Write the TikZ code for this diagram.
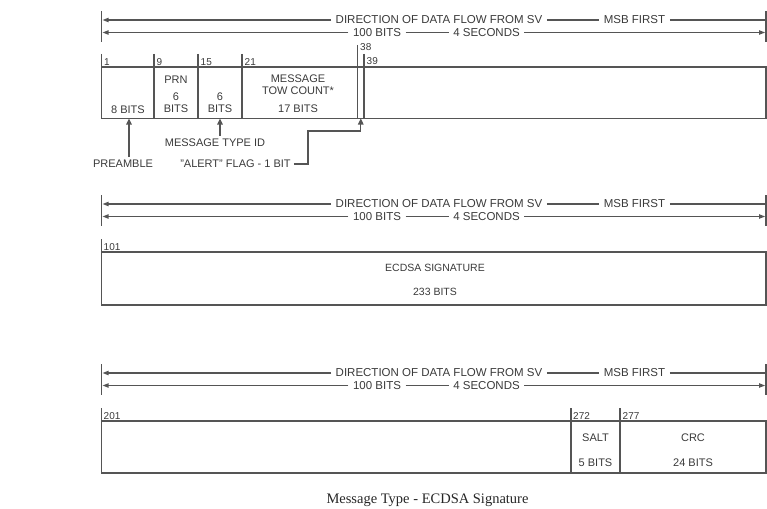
\documentclass[tikz,border=0pt]{standalone}
\usepackage{fontspec}
\setmainfont{Liberation Sans}
\newfontfamily\capfont{Liberation Serif}
\usetikzlibrary{arrows.meta,calc}
\definecolor{lncol}{HTML}{555555}
\definecolor{txcol}{HTML}{3A3A3A}
\begin{document}
\begin{tikzpicture}[x=1pt,y=-1pt,
  ln/.style={draw=lncol, line width=1.25pt},
  tip/.style={ln,-{Triangle[length=6pt,width=4.2pt]}},
  uptip/.style={ln,-{Triangle[length=6pt,width=5.5pt]}},
  lbl/.style={text=txcol, font=\fontsize{11}{12}\selectfont, inner sep=0pt},
  hdr/.style={text=txcol, font=\fontsize{11.5}{12}\selectfont, inner ysep=0pt, inner xsep=4.5pt},
  num/.style={text=txcol, font=\fontsize{10}{10}\selectfont, inner sep=0pt, anchor=base west},
  sublbl/.style={text=txcol, font=\fontsize{11}{12}\selectfont, inner xsep=3pt, inner ysep=3pt},
  ]
\useasboundingbox (0,0) rectangle (767,508);

% ---------- headers ----------
\foreach \s/\y in {1/20,2/204,3/373}{
  \coordinate (tlA\s) at (101.7,\y-9);
  \coordinate (tlB\s) at (101.7,\y+22);
  \coordinate (trA\s) at (766,\y-9);
  \coordinate (trB\s) at (766,\y+22);
  \draw[ln] (tlA\s) -- (tlB\s);
  \draw[ln] (trA\s) -- (trB\s);
  \node[hdr] (d\s) at (439,\y) {DIRECTION OF DATA FLOW FROM SV};
  \node[hdr] (m\s) at (634.5,\y) {MSB FIRST};
  \node[hdr] (b\s) at (377,\y+12.5) {100 BITS};
  \node[hdr] (s\s) at (486.5,\y+12.5) {4 SECONDS};
  \draw[tip, shorten >=0.8pt] (d\s.west) -- (d\s.west -| tlA\s);
  \draw[ln] (d\s.east) -- (m\s.west);
  \draw[ln] (m\s.east) -- (m\s.east -| trA\s);
  \draw[tip, shorten >=0.8pt] (b\s.west) -- (b\s.west -| tlA\s);
  \draw[ln] (b\s.east) -- (s\s.west);
  \draw[tip, shorten >=0.8pt] (s\s.east) -- (s\s.east -| trA\s);
}

% ---------- word 1 ----------
\draw[ln] (101.7,67) rectangle (766,118.5);
\draw[ln] (101.7,54) -- (101.7,67);
\foreach \x in {154,198,242}{\draw[ln] (\x,54) -- (\x,118.5);}
\draw[ln] (357.5,45) -- (357.5,118.5);
\draw[ln] (364,54) -- (364,118.5);
\node[num] (n1) at (104,65.5) {1};
\node[num] (n9) at (156.5,65.5) {9};
\node[num] (n15) at (200.5,65.5) {15};
\node[num] (n21) at (244.5,65.5) {21};
\node[num] (n38) at (360,50.5) {38};
\node[num] (n39) at (366.5,64.5) {39};

\node[lbl] (pa) at (128,110) {8 BITS};
\node[lbl] (prn) at (176,80) {PRN};
\node[lbl] (prn6) at (176,97) {6};
\node[lbl] (prnb) at (176,109) {BITS};
\node[lbl] (mt6) at (220,97) {6};
\node[lbl] (mtb) at (220,109) {BITS};
\node[lbl] (tw1) at (298,79) {MESSAGE};
\node[lbl] (tw2) at (298,91) {TOW COUNT*};
\node[lbl] (tw3) at (298,109) {17 BITS};

\coordinate (preT) at (129,118.5);
\coordinate (mtT) at (220,118.5);
\coordinate (alT) at (360.8,118.5);
\coordinate (alK) at (308,131);
\node[sublbl] (pre) at (123,164) {PREAMBLE};
\node[sublbl] (mti) at (215,143) {MESSAGE TYPE ID};
\node[sublbl] (alf) at (235.5,164) {"ALERT" FLAG - 1 BIT};
\draw[uptip] (pre.north -| preT) -- (preT);
\draw[uptip] (mti.north -| mtT) -- (mtT);
\draw[uptip] (alf.east) -| (alK) -- (alK -| alT) -- (alT);

% ---------- word 2 ----------
\draw[ln] (101.7,252) rectangle (766,305);
\draw[ln] (101.7,239) -- (101.7,252);
\node[num] (n101) at (103.5,250.5) {101};
\node[lbl, font=\fontsize{10.5}{12}\selectfont] (sig) at (435,268) {ECDSA SIGNATURE};
\node[lbl, font=\fontsize{10.5}{12}\selectfont] (sigb) at (435,292) {233 BITS};

% ---------- word 3 ----------
\draw[ln] (101.7,421) rectangle (766,473);
\draw[ln] (101.7,408) -- (101.7,421);
\foreach \x in {571,620}{\draw[ln] (\x,408) -- (\x,473);}
\node[num] (n201) at (103.5,419.5) {201};
\node[num] (n272) at (573,419.5) {272};
\node[num] (n277) at (622.5,419.5) {277};
\node[lbl] (salt) at (595.5,438) {SALT};
\node[lbl] (saltb) at (595.5,463) {5 BITS};
\node[lbl] (crc) at (693,438) {CRC};
\node[lbl] (crcb) at (693,463) {24 BITS};

% ---------- caption ----------
\node[text=black!85, font=\capfont\fontsize{14.5}{16}\selectfont, anchor=base, inner sep=0pt] (cap) at (427.5,503.5) {Message Type - ECDSA Signature};
\end{tikzpicture}
\end{document}
